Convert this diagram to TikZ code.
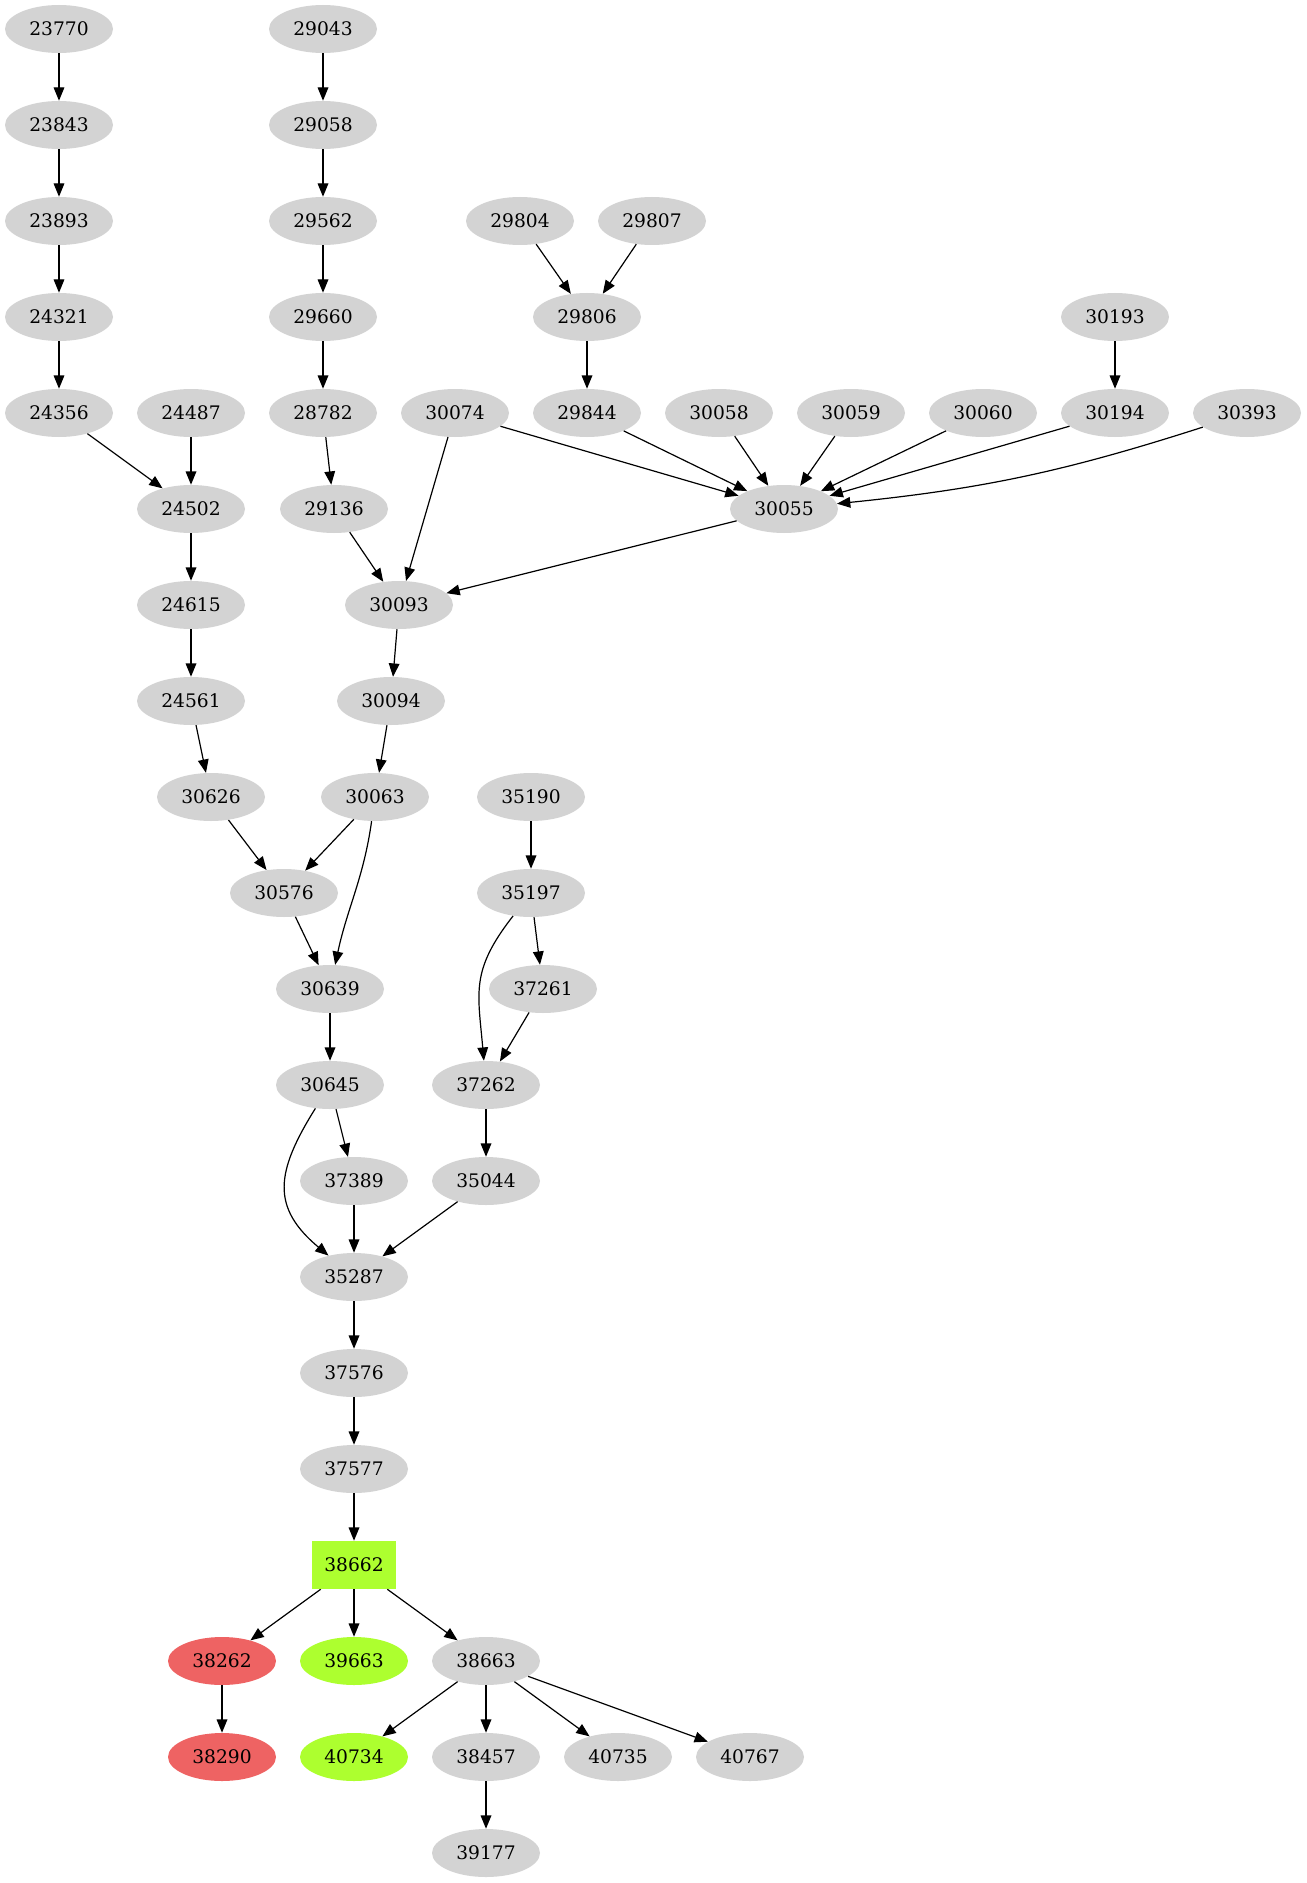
\documentclass[tikz,border=0pt]{standalone}
\usepackage{xcolor}
\usepackage{fontspec}
\setmainfont{DejaVu Serif}
\usetikzlibrary{shapes.geometric,arrows.meta}

\definecolor{nodegray}{HTML}{D3D3D3}
\definecolor{nodered}{HTML}{EE6363}
\definecolor{nodegreen}{HTML}{ADFF2F}

\tikzset{
  gnode/.style={ellipse, fill=nodegray, minimum width=81pt, minimum height=36pt, inner sep=0pt, font=\fontsize{14pt}{16pt}\selectfont},
  rnode/.style={gnode, fill=nodered},
  ynode/.style={gnode, fill=nodegreen},
  boxnode/.style={rectangle, fill=nodegreen, minimum width=63pt, minimum height=36pt, inner sep=0pt, font=\fontsize{14pt}{16pt}\selectfont},
  edge/.style={line width=0.9pt, -{Triangle[length=10pt,width=8pt]}}
}

\begin{document}
\begin{tikzpicture}[x=0.75pt, y=-0.75pt]
\useasboundingbox (0,0) rectangle (1306,1883);

% Grey nodes: name/x/rank
\foreach \nm/\x/\r in {23770/59/0, 29043/323/0,
    23843/59/1, 29058/323/1,
    23893/59/2, 29562/323/2, 29804/520/2, 29807/652/2,
    24321/59/3, 29660/323/3, 29806/587/3, 30193/1115/3,
    24356/59/4, 24487/191/4, 28782/323/4, 30074/455/4, 29844/587/4,
    30058/719/4, 30059/851/4, 30060/983/4, 30194/1115/4, 30393/1247/4,
    24502/191/5, 29136/334/5, 30055/784/5,
    24615/191/6, 30093/399/6,
    24561/191/7, 30094/391/7,
    30626/211/8, 30063/375/8, 35190/531/8,
    30576/284/9, 35197/531/9,
    30639/330/10, 37261/543/10,
    30645/330/11, 37262/486/11,
    37389/354/12, 35044/486/12,
    35287/354/13, 37576/354/14, 37577/354/15,
    38663/486/17,
    38457/486/18, 40735/618/18, 40767/750/18,
    39177/486/19} {
    \node[gnode] (n\nm) at (\x,{29+96*\r}) {\nm};
}

% Marked nodes
\node[boxnode] (n38662) at (354,1565) {38662};
\node[rnode] (n38262) at (222,1661) {38262};
\node[ynode] (n39663) at (354,1661) {39663};
\node[rnode] (n38290) at (222,1757) {38290};
\node[ynode] (n40734) at (354,1757) {40734};

% Straight edges
\foreach \a/\b in {23770/23843, 23843/23893, 23893/24321, 24321/24356, 24356/24502,
    24487/24502, 24502/24615, 24615/24561, 24561/30626, 30626/30576,
    29043/29058, 29058/29562, 29562/29660, 29660/28782, 28782/29136, 29136/30093,
    29804/29806, 29807/29806, 29806/29844, 29844/30055,
    30074/30055, 30074/30093, 30058/30055, 30059/30055, 30060/30055,
    30194/30055, 30193/30194,
    30055/30093, 30093/30094, 30094/30063, 30063/30576,
    30576/30639, 30639/30645, 30645/37389,
    35190/35197, 35197/37261, 37261/37262, 37262/35044,
    35044/35287, 37389/35287, 35287/37576, 37576/37577, 37577/38662,
    38662/38262, 38662/39663, 38662/38663, 38262/38290,
    38663/40734, 38663/38457, 38663/40735, 38663/40767, 38457/39177} {
    \draw[edge] (n\a) -- (n\b);
}

% Curved edges
\draw[edge] (n30393) to[bend left=6] (n30055);
\draw[edge] (n30063) to[out=-98, in=78] (n30639);
\draw[edge] (n35197) to[out=-128, in=95, looseness=1.2] (n37262);
\draw[edge] (n30645) to[out=-122, in=140, looseness=1.3] (n35287);
\end{tikzpicture}
\end{document}
